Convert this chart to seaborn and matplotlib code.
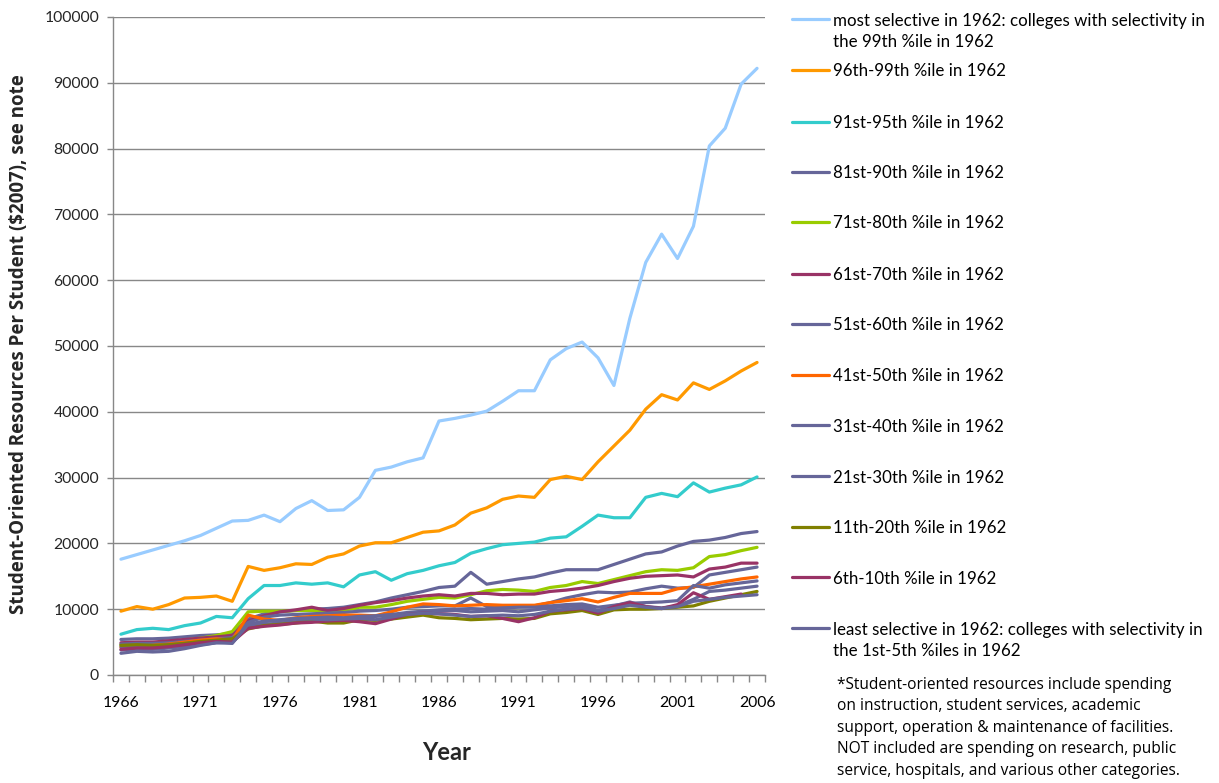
import numpy as np
import pandas as pd
import matplotlib
matplotlib.use("Agg")
import matplotlib.pyplot as plt
from matplotlib.lines import Line2D
from matplotlib.ticker import MultipleLocator, FixedLocator
import seaborn as sns

years = list(range(1966, 2007))

series_names = [
    "most selective in 1962: colleges with selectivity in\nthe 99th %ile in 1962",
    "96th-99th %ile in 1962",
    "91st-95th %ile in 1962",
    "81st-90th %ile in 1962",
    "71st-80th %ile in 1962",
    "61st-70th %ile in 1962",
    "51st-60th %ile in 1962",
    "41st-50th %ile in 1962",
    "31st-40th %ile in 1962",
    "21st-30th %ile in 1962",
    "11th-20th %ile in 1962",
    "6th-10th %ile in 1962",
    "least selective in 1962: colleges with selectivity in\nthe 1st-5th %iles in 1962",
]

colors = ["#99CCFF", "#FF9900", "#33CCCC", "#666699", "#99CC00", "#993366",
          "#666699", "#FF6600", "#666699", "#666699", "#808000", "#993366", "#666699"]

p99 = [17600, 18300, 19000, 19700, 20400, 21200, 22300, 23400, 23500, 24300,
       23300, 25300, 26500, 25000, 25100, 27000, 31100, 31600, 32400, 33000,
       38600, 39000, 39500, 40100, 41600, 43200, 43200, 47900, 49600, 50600,
       48200, 44000, 54200, 62700, 67000, 63300, 68200, 80400, 83100, 89800,
       92200]
p96_99 = [9700, 10400, 10000, 10700, 11700, 11800, 12000, 11200, 16500, 15900,
          16300, 16900, 16800, 17900, 18400, 19600, 20100, 20100, 20900, 21700,
          21900, 22800, 24600, 25400, 26700, 27200, 27000, 29700, 30200, 29700,
          32400, 34800, 37200, 40400, 42600, 41800, 44400, 43400, 44700, 46200,
          47500]
p91_95 = [6200, 6900, 7100, 6900, 7500, 7900, 8900, 8700, 11600, 13600,
          13600, 14000, 13800, 14000, 13400, 15200, 15700, 14400, 15400, 15900,
          16600, 17100, 18500, 19200, 19800, 20000, 20200, 20800, 21000, 22600,
          24300, 23900, 23900, 27000, 27600, 27100, 29200, 27800, 28400, 28900,
          30100]
p81_90 = [5400, 5500, 5500, 5600, 5800, 6000, 6100, 6300, 8500, 9300,
          9600, 9800, 10000, 10100, 10300, 10700, 11100, 11700, 12200, 12700,
          13300, 13500, 15600, 13800, 14200, 14600, 14900, 15500, 16000, 16000,
          16000, 16800, 17600, 18400, 18700, 19600, 20300, 20500, 20900, 21500,
          21800]
p71_80 = [4600, 4700, 4800, 5000, 5300, 5600, 6000, 6600, 9600, 9700,
          9700, 9800, 9800, 9600, 9800, 10300, 10300, 10700, 11200, 11500,
          11800, 11700, 12200, 12800, 13000, 12900, 12700, 13300, 13600, 14200,
          13900, 14500, 15100, 15700, 16000, 15900, 16300, 18000, 18300, 18900,
          19400]
p61_70 = [4900, 5000, 5000, 5200, 5400, 5600, 5800, 6000, 8200, 9000,
          9600, 9900, 10300, 9800, 10100, 10600, 11000, 11300, 11700, 12000,
          12200, 12000, 12400, 12400, 12200, 12300, 12300, 12700, 12900, 13200,
          13600, 14200, 14700, 15000, 15100, 15200, 14900, 16100, 16400, 17000,
          17000]
p51_60 = [4700, 4800, 4800, 4900, 5100, 5300, 5500, 5700, 8000, 8800,
          9100, 9200, 9300, 9400, 9500, 9700, 9800, 10000, 10300, 10400,
          10500, 10500, 11700, 10400, 10300, 10400, 10500, 11000, 11700, 12200,
          12600, 12500, 12600, 13100, 13500, 13200, 13300, 15200, 15600, 16000,
          16400]
p41_50 = [4200, 4400, 4500, 4700, 5000, 5300, 5500, 5300, 9100, 8500,
          8300, 8700, 8900, 9000, 9100, 9100, 9000, 9600, 10300, 10800,
          10700, 10500, 10600, 10700, 10600, 10600, 10600, 11000, 11300, 11600,
          11100, 11800, 12400, 12400, 12400, 13100, 13400, 13800, 14200, 14600,
          14900]
p31_40 = [4300, 4400, 4400, 4600, 4800, 5000, 5200, 5300, 7500, 8100,
          8400, 8600, 8700, 8800, 8700, 8900, 9000, 9200, 9500, 9700,
          9900, 10000, 10100, 10000, 10200, 10300, 10300, 10500, 10700, 10800,
          10300, 10600, 10900, 11000, 11100, 11300, 13600, 13200, 13700, 14000,
          14300]
p21_30 = [3800, 3900, 3900, 4100, 4300, 4600, 4900, 5000, 7300, 7700,
          7900, 8100, 8300, 8500, 8600, 8800, 8900, 9100, 9300, 9600,
          9700, 9800, 9600, 9700, 9800, 9600, 9900, 10200, 10400, 10600,
          9800, 10500, 11100, 10400, 10200, 10500, 11500, 12700, 12900, 13200,
          13500]
p11_20 = [4500, 4600, 4500, 4600, 4800, 5100, 5300, 5500, 7000, 7500,
          7700, 7900, 8200, 7900, 7900, 8400, 8300, 8500, 8800, 9100,
          8700, 8600, 8400, 8500, 8600, 8500, 8600, 9300, 9500, 9800,
          9200, 9900, 10000, 10000, 10100, 10300, 10500, 11200, 11700, 12200,
          12700]
p6_10 = [3900, 4100, 4100, 4300, 4600, 4900, 5100, 5000, 7100, 7400,
         7600, 7900, 8000, 8200, 8300, 8100, 7800, 8500, 9200, 9400,
         9300, 9200, 8900, 9000, 8600, 8100, 8700, 9700, 9900, 10100,
         9400, 10400, 11000, 10400, 10100, 10700, 12500, 11500, 11900, 12300,
         np.nan]
p1_5 = [3300, 3600, 3500, 3600, 4000, 4500, 4900, 4800, 7700, 8200,
        8300, 8500, 8500, 8400, 8500, 8600, 8400, 8800, 9200, 9400,
        9300, 9100, 8900, 9000, 9100, 9000, 9200, 9700, 10000, 10200,
        9700, 10100, 10600, 10300, 10100, 10400, 11200, 11500, 11800, 12000,
        12200]

values = [p99, p96_99, p91_95, p81_90, p71_80, p61_70, p51_60, p41_50,
          p31_40, p21_30, p11_20, p6_10, p1_5]

tick_years = [1966, 1971, 1976, 1981, 1986, 1991, 1996, 2001, 2006]

note = ("*Student-oriented resources include spending\n"
        "on instruction, student services, academic\n"
        "support, operation & maintenance of facilities.\n"
        "NOT included are spending on research, public\n"
        "service, hospitals, and various other categories.")

# long-format frame
frames = []
for name, vals in zip(series_names, values):
    frames.append(pd.DataFrame({"Year": years, "Value": vals, "Series": name}))
df = pd.concat(frames, ignore_index=True)

sns.set_style("white")
plt.rcParams["font.family"] = ["Lato", "DejaVu Sans"]

fig = plt.figure(figsize=(12.19, 7.83), dpi=100)
ax = fig.add_axes([113 / 1219, (783 - 675) / 783, (765 - 113) / 1219, (675 - 17) / 783])

palette = {n: c for n, c in zip(series_names, colors)}
sns.lineplot(data=df, x="Year", y="Value", hue="Series", palette=palette,
             hue_order=series_names, linewidth=2.3, legend=False, ax=ax,
             estimator=None, sort=False)

ax.set_xlim(1965.5, 2006.5)
ax.set_ylim(0, 100000)
ax.yaxis.set_major_locator(MultipleLocator(10000))
ax.yaxis.grid(True, color="#888888", linewidth=1.0)
ax.xaxis.grid(False)
ax.set_axisbelow(True)

ax.xaxis.set_major_locator(FixedLocator(tick_years))
ax.xaxis.set_minor_locator(FixedLocator(np.arange(1965.5, 2007, 1.0)))
ax.tick_params(axis="x", which="major", length=0, pad=15, labelsize=11.3, colors="#000000")
ax.tick_params(axis="x", which="minor", length=5, width=1, color="#888888", direction="out")
ax.tick_params(axis="y", which="major", length=4, width=1, color="#888888", pad=6,
               labelsize=11.3, direction="out")
ax.tick_params(bottom=True, left=True, which="both")
ax.get_yaxis().set_major_formatter(matplotlib.ticker.FuncFormatter(lambda v, p: f"{int(v)}"))

for s in ["top", "right"]:
    ax.spines[s].set_visible(False)
for s in ["left", "bottom"]:
    ax.spines[s].set_color("#888888")
    ax.spines[s].set_linewidth(1.0)

ax.set_xlabel("")
ax.set_ylabel("")
fig.text(447 / 1219, 1 - 752 / 783, "Year", fontsize=17, fontweight="bold",
         ha="center", va="center")
fig.text(19 / 1219, 1 - 344 / 783, "Student-Oriented Resources Per Student ($2007), see note",
         rotation=90, fontsize=13.5, fontweight="bold", ha="center", va="center",
         family=["Open Sans", "DejaVu Sans"])

# legend, drawn as Excel lays it out
leg_y = [19.3, 69.7, 121.7, 171.7, 221.7, 273.7, 323.7, 374.7, 425.0, 476.3, 526.7, 577.3, 628.3]
for name, col, yy in zip(series_names, colors, leg_y):
    yf = 1 - yy / 783
    fig.add_artist(Line2D([792 / 1219, 829 / 1219], [yf, yf], color=col, linewidth=2.3,
                          transform=fig.transFigure))
    lines = name.split("\n")
    for k, ln in enumerate(lines):
        fig.text(833 / 1219, 1 - (yy + 1.5 + k * 21) / 783, ln, fontsize=12.2,
                 ha="left", va="center", color="#000000")

fig.text(837 / 1219, 1 - 677 / 783, note, fontsize=11.2, ha="left", va="top",
         linespacing=1.45, color="#000000", family=["Open Sans", "DejaVu Sans"])

fig.savefig("out.png", dpi=100)
